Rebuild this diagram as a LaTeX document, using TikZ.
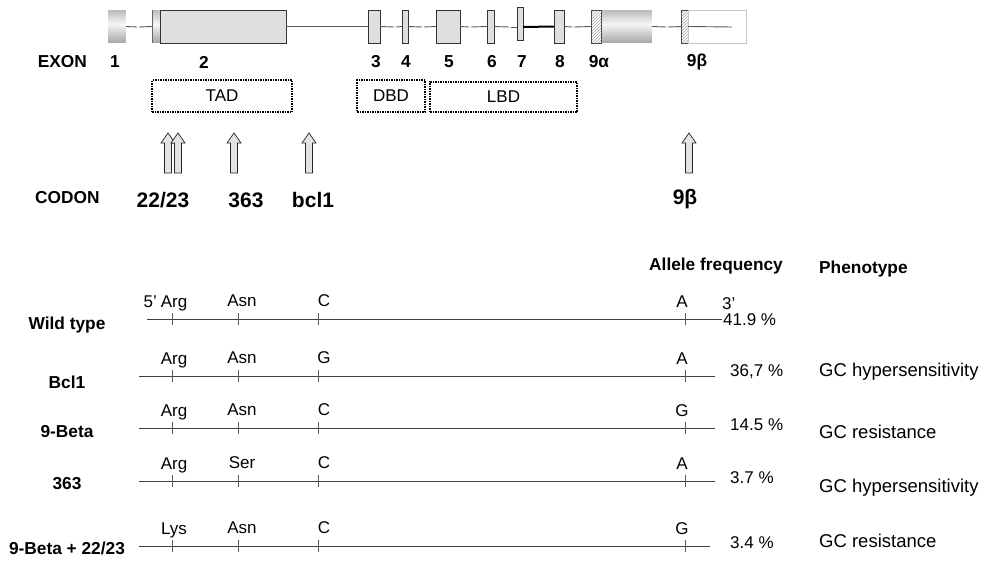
\documentclass[tikz,border=0pt]{standalone}
\usepackage{fontspec}
\setmainfont{Liberation Sans}
\usetikzlibrary{patterns}
\begin{document}
\begin{tikzpicture}[x=1pt,y=-1pt,
  txt/.style={font=\fontsize{17}{20}\selectfont, inner sep=0pt},
  phtxt/.style={font=\fontsize{18.5}{22}\selectfont, inner sep=0pt},
  btxt/.style={font=\fontsize{17.3}{20}\selectfont\bfseries, inner sep=0pt},
  bigtxt/.style={font=\fontsize{21}{24}\selectfont\bfseries, inner sep=0pt},
  exonbox/.style={draw=black!80, fill=gray!25, line width=0.8pt, inner sep=0pt, outer sep=0pt},
  slot/.style={inner sep=0pt, outer sep=0pt},
  hatch/.style={draw=black!70, line width=0.6pt, pattern=north east lines, pattern color=gray!70, inner sep=0pt, outer sep=0pt},
  intron/.style={draw=black!65, line width=0.9pt},
  dombox/.style={draw=black, densely dotted, line width=1.5pt, inner sep=0pt, font=\fontsize{17}{20}\selectfont},
  seqline/.style={draw=black!75, line width=0.9pt},
  tick/.style={draw=black!65, line width=0.9pt},
  uparr/.pic={\draw[fill=gray!22, draw=black!85, line width=0.7pt]
     (-3.5,0) -- (-3.5,-30) -- (-7,-30) -- (0,-40) -- (7,-30) -- (3.5,-30) -- (3.5,0) -- cycle;}
]
\fill[white] (0,0) rectangle (985,560);
\useasboundingbox (0,0) rectangle (985,560);

% ---------- gene map ----------
\node[slot, minimum width=18, minimum height=33] (e1) at (117,26.5) {};
\node[slot, minimum width=8, minimum height=33] (e2u) at (156,26.5) {};
\node[slot, minimum width=51, minimum height=33] (e9a) at (626.5,26.5) {};
% untranslated parts: grey cylinder look, light in the middle
\foreach \u in {e1,e2u,e9a}
  \foreach \k in {0,...,32} {
    \pgfmathsetmacro\p{int(8+52*abs(\k-14)/16)}
    \fill[gray!\p] ([yshift=-\k]\u.north west) rectangle ([yshift=-\k-1.2]\u.north east);
  }
\draw[black!60, line width=1pt] (e2u.north west) -- (e2u.south west);
\node[exonbox, minimum width=126, minimum height=33] (e2) at (223,26.5) {};
\node[exonbox, minimum width=12, minimum height=33] (e3) at (374,26.5) {};
\node[exonbox, minimum width=6, minimum height=33] (e4) at (405,26.5) {};
\node[exonbox, minimum width=24, minimum height=33] (e5) at (448,26.5) {};
\node[exonbox, minimum width=7, minimum height=33] (e6) at (490.5,26.5) {};
\node[exonbox, minimum width=6, minimum height=33] (e7) at (520,23.5) {};
\node[exonbox, minimum width=10, minimum height=33] (e8) at (559,26.5) {};
\node[hatch, minimum width=10, minimum height=33] (e9ah) at (596,26.5) {};
\node[hatch, minimum width=7, minimum height=33] (e9bh) at (684.5,26.5) {};
\node[draw=gray!45, line width=0.8pt, inner sep=0pt, outer sep=0pt, minimum width=58, minimum height=33] (e9b) at (717,26.5) {};

% introns, with small breaks
\coordinate (g1) at (138,27);
\coordinate (g2) at (395,27);
\coordinate (g3) at (423,27);
\coordinate (g4) at (470,27);
\coordinate (g5) at (510,27);
\coordinate (g6) at (573,27);
\coordinate (g7) at (667,27);
\coordinate (t9b) at (732,27);
\draw[intron] (e1.east) -- ([xshift=-1]g1);
\draw[intron] ([xshift=1]g1) -- (e2u.west);
\draw[intron] (e2.east) -- (e3.west);
\draw[intron] (e3.east) -- ([xshift=-1]g2);
\draw[intron] ([xshift=1]g2) -- (e4.west);
\draw[intron] (e4.east) -- ([xshift=-1]g3);
\draw[intron] ([xshift=1]g3) -- (e5.west);
\draw[intron] (e5.east) -- ([xshift=-1]g4);
\draw[intron] ([xshift=1]g4) -- (e6.west);
\draw[intron] (e6.east) -- ([xshift=-1]g5);
\draw[intron] ([xshift=1]g5) -- (e7.west |- g5);
\draw[draw=black, line width=2pt] (e7.east |- g5) -- (e8.west);
\draw[intron] (e8.east) -- ([xshift=-1]g6);
\draw[intron] ([xshift=1]g6) -- (e9ah.west);
\draw[intron] (e9a.east) -- ([xshift=-1]g7);
\draw[intron] ([xshift=1]g7) -- (e9bh.west);
\draw[intron] (e9bh.east) -- (t9b);

% exon numbers
\node[btxt, anchor=east] (exlbl) at (87,62) {EXON};
\node[btxt] (n1) at (115,62) {1};
\node[btxt] (n2) at (204,62) {2};
\node[btxt] (n3) at (376,62) {3};
\node[btxt] (n4) at (406,62) {4};
\node[btxt] (n5) at (449,62) {5};
\node[btxt] (n6) at (492,62) {6};
\node[btxt] (n7) at (522,62) {7};
\node[btxt] (n8) at (560,62) {8};
\node[btxt] (n9a) at (599,62) {9α};
\node[btxt] (n9b) at (697,62) {9β};

% domains
\node[dombox, minimum width=140, minimum height=32] (tad) at (222,96) {TAD};
\node[dombox, minimum width=68, minimum height=32] (dbd) at (391,96) {DBD};
\node[dombox, minimum width=147, minimum height=30] (lbd) at (503.5,97) {LBD};

% codon arrows
\pic at (168,173) {uparr};
\pic at (178,173) {uparr};
\pic at (234,173) {uparr};
\pic at (309,173) {uparr};
\pic at (689,173) {uparr};

\node[btxt, anchor=west] (codon) at (35,198) {CODON};
\node[bigtxt] (c22) at (163,200) {22/23};
\node[bigtxt] (c363) at (246,200) {363};
\node[bigtxt] (cbcl) at (313,200) {bcl1};
\node[bigtxt] (c9b) at (685,199) {9β};

% ---------- haplotypes ----------
\node[btxt, anchor=west] (hfreq) at (649,266) {Allele frequency};
\node[btxt, anchor=west] (hphen) at (819,269) {Phenotype};

\foreach \i/\yy/\xs/\xe/\rn/\rl/\aa/\bb/\cc/\dd/\px/\pct/\pb in {
  1/319/147/722/{Wild type}/325/Arg/Asn/C/A/723/{41.9 \%}/6,
  2/376/139/715/Bcl1/382/Arg/Asn/G/A/730/{36,7 \%}/0,
  3/428/139/715/9-Beta/432/Arg/Asn/C/G/730/{14.5 \%}/2,
  4/481/139/715/363/484/Arg/Ser/C/A/730/{3.7 \%}/2,
  5/546/139/710/{9-Beta + 22/23}/548/Lys/Asn/C/G/730/{3.4 \%}/2}
{
  \coordinate (r\i s) at (\xs,\yy);
  \coordinate (r\i e) at (\xe,\yy);
  \draw[seqline] (r\i s) -- (r\i e);
  \foreach \tx in {172,238,318,685} \draw[tick] (\tx,\yy-6) -- (\tx,\yy+6);
  \node[btxt] (rl\i) at (67,\rl) {\rn};
  \node[txt, anchor=base] (ra\i) at (174,\yy-12) {\aa};
  \node[txt, anchor=base] (rb\i) at (242,\yy-13) {\bb};
  \node[txt, anchor=base] (rc\i) at (324,\yy-13) {\cc};
  \node[txt, anchor=base] (rd\i) at (682,\yy-12) {\dd};
  \node[txt, anchor=base west] (rp\i) at (\px,\yy+\pb) {\pct};
}
\node[txt, anchor=base east] (p5) at (157,307) {5’};
\node[txt, anchor=base west] (p3) at (722,309) {3’};

\foreach \i/\yy/\ph in {2/372/{GC hypersensitivity}, 3/432/{GC resistance},
                        4/488/{GC hypersensitivity}, 5/541/{GC resistance}}
  \node[phtxt, anchor=west] (ph\i) at (819,\yy) {\ph};
\end{tikzpicture}
\end{document}
